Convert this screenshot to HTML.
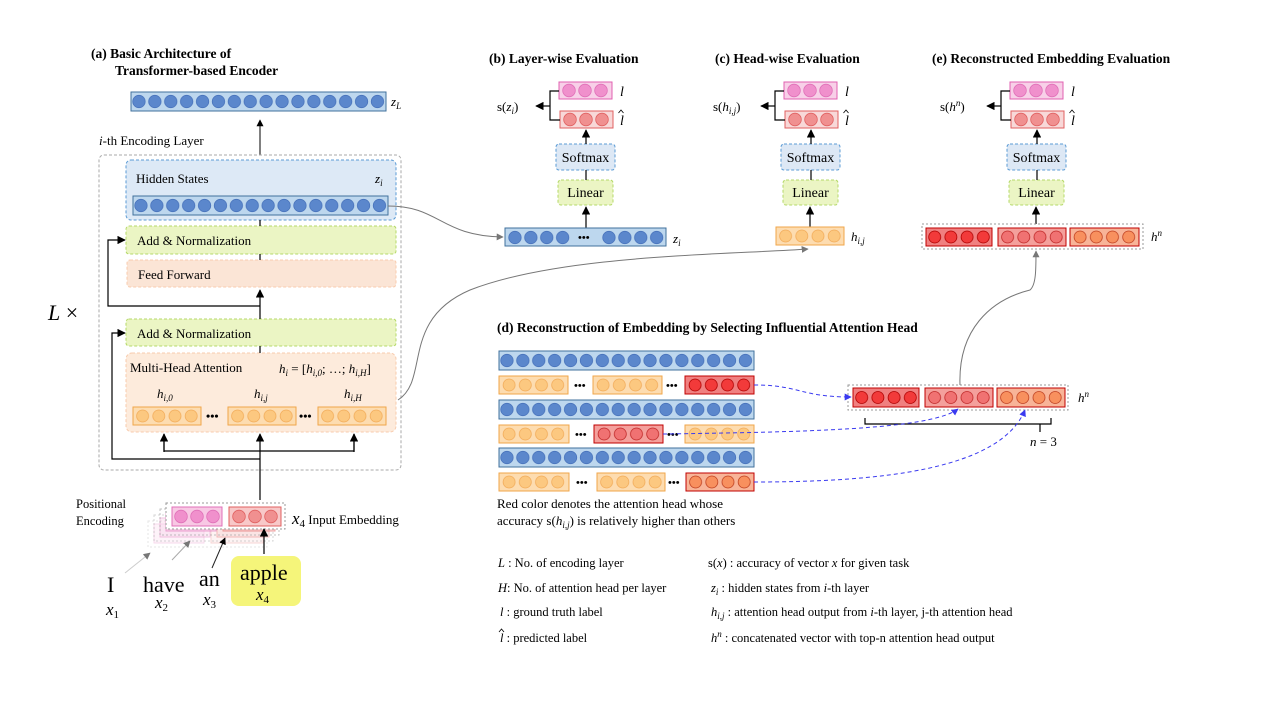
<!DOCTYPE html>
<html><head><meta charset="utf-8"><style>
html,body{margin:0;padding:0;background:#fff;}
svg{display:block;font-family:"Liberation Serif",serif;}
.m{font-style:italic;}
.t{font-weight:bold;font-size:13.5px;}
.lg{font-size:12.5px;}
</style></head><body>
<svg width="1280" height="720" viewBox="0 0 1280 720" xmlns="http://www.w3.org/2000/svg">
<defs>
<marker id="ar" viewBox="0 0 10 10" refX="9" refY="5" markerWidth="7" markerHeight="7" orient="auto"><path d="M0,0L10,5L0,10z" fill="#000"/></marker>
<marker id="ag" viewBox="0 0 10 10" refX="9" refY="5" markerWidth="7" markerHeight="7" orient="auto"><path d="M0,0L10,5L0,10z" fill="#777"/></marker>
<marker id="ab" viewBox="0 0 10 10" refX="9" refY="5" markerWidth="7" markerHeight="7" orient="auto"><path d="M0,0L10,5L0,10z" fill="#3a3af0"/></marker>
<pattern id="pB" patternUnits="userSpaceOnUse" width="15.9" height="19"><circle cx="7.95" cy="9.5" r="6.2" fill="#5b87cc" stroke="#4772bb" stroke-width="0.8"/></pattern>
<pattern id="pO" patternUnits="userSpaceOnUse" width="16.2" height="18"><circle cx="8.1" cy="9" r="6" fill="#fcc880" stroke="#f2ac5a" stroke-width="0.8"/></pattern>
<pattern id="pR1" patternUnits="userSpaceOnUse" width="16.2" height="18"><circle cx="8.1" cy="9" r="6" fill="#f23a3a" stroke="#b00000" stroke-width="0.8"/></pattern>
<pattern id="pR2" patternUnits="userSpaceOnUse" width="16.2" height="18"><circle cx="8.1" cy="9" r="6" fill="#f07272" stroke="#c02828" stroke-width="0.8"/></pattern>
<pattern id="pR3" patternUnits="userSpaceOnUse" width="16.2" height="18"><circle cx="8.1" cy="9" r="6" fill="#f8905e" stroke="#c04020" stroke-width="0.8"/></pattern>
<pattern id="pP" patternUnits="userSpaceOnUse" width="16" height="17"><circle cx="8" cy="8.5" r="6.3" fill="#f090cc" stroke="#e070b8" stroke-width="0.8"/></pattern>
<pattern id="pL" patternUnits="userSpaceOnUse" width="16" height="17"><circle cx="8" cy="8.5" r="6.3" fill="#f09090" stroke="#e06060" stroke-width="0.8"/></pattern>
</defs>

<!-- (a) title -->
<text class="t" x="91" y="58">(a)  Basic Architecture of</text>
<text class="t" x="115" y="75">Transformer-based Encoder</text>

<g transform="translate(131,92)"><rect width="255" height="19" fill="#bdd7ee" stroke="#41719c"/><rect width="254.4" height="19" fill="url(#pB)"/></g>
<text x="391" y="106" class="m" font-size="13">z<tspan font-size="9" dy="3">L</tspan></text>
<line x1="260" y1="155" x2="260" y2="120" stroke="#000" marker-end="url(#ar)"/>
<text x="99" y="145" font-size="13"><tspan class="m">i</tspan>-th Encoding Layer</text>

<rect x="99" y="155" width="302" height="315" rx="5" fill="none" stroke="#aaa" stroke-dasharray="3,2"/>
<text x="48" y="320" font-size="22"><tspan class="m">L</tspan> ×</text>

<rect x="126" y="160" width="270" height="60" rx="5" fill="#dde9f6" stroke="#5b9bd5" stroke-dasharray="3,2"/>
<text x="136" y="183" font-size="13">Hidden  States</text>
<text x="375" y="183" class="m" font-size="13">z<tspan font-size="9" dy="3">i</tspan></text>
<g transform="translate(133,196)"><rect width="255" height="19" fill="#bdd7ee" stroke="#41719c"/><rect width="254.4" height="19" fill="url(#pB)"/></g>

<rect x="126" y="226" width="270" height="28" rx="3" fill="#ebf5c4" stroke="#b5d96a" stroke-dasharray="3,2"/>
<text x="137" y="245" font-size="13">Add &amp; Normalization</text>
<rect x="127" y="260" width="269" height="27" rx="3" fill="#fbe5d6" stroke="#f8cbad" stroke-dasharray="3,2"/>
<text x="138" y="279" font-size="13">Feed Forward</text>
<rect x="126" y="319" width="270" height="27" rx="3" fill="#ebf5c4" stroke="#b5d96a" stroke-dasharray="3,2"/>
<text x="137" y="338" font-size="13">Add &amp; Normalization</text>
<rect x="126" y="353" width="270" height="79" rx="6" fill="#fdebdc" stroke="#f8cbad" stroke-dasharray="3,2"/>
<text x="130" y="372" font-size="13">Multi-Head  Attention</text>
<text x="279" y="373" font-size="13"><tspan class="m">h<tspan font-size="9" dy="3">i</tspan></tspan><tspan dy="-3"> = [</tspan><tspan class="m">h<tspan font-size="9" dy="3">i,0</tspan></tspan><tspan dy="-3">; …; </tspan><tspan class="m">h<tspan font-size="9" dy="3">i,H</tspan></tspan><tspan dy="-3">]</tspan></text>
<text x="157" y="398" class="m" font-size="13">h<tspan font-size="9" dy="3">i,0</tspan></text>
<text x="254" y="398" class="m" font-size="13">h<tspan font-size="9" dy="3">i,j</tspan></text>
<text x="344" y="398" class="m" font-size="13">h<tspan font-size="9" dy="3">i,H</tspan></text>
<g transform="translate(133,407)"><rect width="68" height="18" fill="#fddcb0" stroke="#f0a64a"/><g transform="translate(1.5,0)"><rect width="64.8" height="18" fill="url(#pO)"/></g></g>
<g transform="translate(228,407)"><rect width="68" height="18" fill="#fddcb0" stroke="#f0a64a"/><g transform="translate(1.5,0)"><rect width="64.8" height="18" fill="url(#pO)"/></g></g>
<g transform="translate(318,407)"><rect width="68" height="18" fill="#fddcb0" stroke="#f0a64a"/><g transform="translate(1.5,0)"><rect width="64.8" height="18" fill="url(#pO)"/></g></g>
<text x="206" y="420" font-size="12" font-weight="bold">•••</text>
<text x="299" y="420" font-size="12" font-weight="bold">•••</text>

<g stroke="#000" fill="none" stroke-width="1.2">
<line x1="260" y1="220" x2="260" y2="226"/>
<line x1="260" y1="254" x2="260" y2="260"/>
<line x1="260" y1="346" x2="260" y2="353"/>
<line x1="260" y1="319" x2="260" y2="290" marker-end="url(#ar)"/>
<polyline points="260,306 108,306 108,240 125,240" marker-end="url(#ar)"/>
<line x1="260" y1="500" x2="260" y2="434" marker-end="url(#ar)"/>
<polyline points="164,434 164,451 354,451 354,434" />
<line x1="164" y1="452" x2="164" y2="434" marker-end="url(#ar)"/>
<line x1="354" y1="452" x2="354" y2="434" marker-end="url(#ar)"/>
<polyline points="260,459 112,459 112,333 125,333" marker-end="url(#ar)"/>
</g>

<!-- input embeddings -->
<g opacity="0.25"><rect x="148" y="521" width="119" height="26" fill="none" stroke="#999" stroke-dasharray="2,2"/><rect x="154" y="524" width="50" height="19" fill="#f8d0e8" stroke="#e070b8"/><rect x="211" y="524" width="52" height="19" fill="#f8d0d0" stroke="#e06060"/></g>
<g opacity="0.4"><rect x="154" y="515" width="119" height="26" fill="none" stroke="#999" stroke-dasharray="2,2"/><rect x="160" y="518" width="50" height="19" fill="#f8d0e8" stroke="#e070b8"/><rect x="217" y="518" width="52" height="19" fill="#f8d0d0" stroke="#e06060"/></g>
<g opacity="0.6"><rect x="160" y="509" width="119" height="26" fill="none" stroke="#999" stroke-dasharray="2,2"/><rect x="166" y="512" width="50" height="19" fill="#f8c0e0" stroke="#e070b8"/><rect x="223" y="512" width="52" height="19" fill="#f8c0c0" stroke="#e06060"/></g>
<rect x="166" y="503" width="119" height="26" fill="#fff" stroke="#999" stroke-dasharray="2,2"/>
<g transform="translate(172,507)"><rect width="50" height="19" fill="#f8c8e4" stroke="#e070b8"/><g transform="translate(1,1)"><rect width="48" height="17" fill="url(#pP)"/></g></g>
<g transform="translate(229,507)"><rect width="52" height="19" fill="#f8c8c8" stroke="#e06060"/><g transform="translate(2,1)"><rect width="48" height="17" fill="url(#pL)"/></g></g>
<text x="292" y="524" font-size="13"><tspan class="m" font-size="17">x</tspan><tspan font-size="11" dy="3">4</tspan><tspan dy="-3"> Input Embedding</tspan></text>
<text x="76" y="508" font-size="12.5">Positional</text>
<text x="76" y="525" font-size="12.5">Encoding</text>

<rect x="231" y="556" width="70" height="50" rx="8" fill="#f5f57a"/>
<text x="107" y="592" font-size="22">I</text>
<text x="143" y="592" font-size="22">have</text>
<text x="199" y="586" font-size="22">an</text>
<text x="240" y="580" font-size="22">apple</text>
<text x="106" y="615" class="m" font-size="17">x<tspan font-size="11" dy="3" font-style="normal">1</tspan></text>
<text x="155" y="608" class="m" font-size="17">x<tspan font-size="11" dy="3" font-style="normal">2</tspan></text>
<text x="203" y="605" class="m" font-size="17">x<tspan font-size="11" dy="3" font-style="normal">3</tspan></text>
<text x="256" y="600" class="m" font-size="17">x<tspan font-size="11" dy="3" font-style="normal">4</tspan></text>
<line x1="264" y1="554" x2="264" y2="529" stroke="#000" stroke-width="1.2" marker-end="url(#ar)"/>
<line x1="212" y1="568" x2="225" y2="538" stroke="#222" marker-end="url(#ar)"/>
<line x1="172" y1="560" x2="190" y2="541" stroke="#aaa" marker-end="url(#ag)"/>
<line x1="125" y1="573" x2="150" y2="553" stroke="#ccc" marker-end="url(#ag)"/>

<!-- (b) -->
<text class="t" x="489" y="63">(b) Layer-wise Evaluation</text>
<g id="evb">
<g transform="translate(559,82)"><rect width="53" height="17" fill="#f8d0e8" stroke="#e060b0"/><g transform="translate(2,0)"><rect width="48" height="17" fill="url(#pP)"/></g></g>
<g transform="translate(560,111)"><rect width="53" height="17" fill="#f8d8d8" stroke="#e06060"/><g transform="translate(2,0)"><rect width="48" height="17" fill="url(#pL)"/></g></g>
<rect x="556" y="144" width="59" height="26" rx="3" fill="#dde8f5" stroke="#5b9bd5" stroke-dasharray="3,2"/>
<text x="585.5" y="162" font-size="14" text-anchor="middle">Softmax</text>
<rect x="558" y="180" width="55" height="25" rx="3" fill="#ebf5c4" stroke="#b5d96a" stroke-dasharray="3,2"/>
<text x="585.5" y="197" font-size="14" text-anchor="middle">Linear</text>
<g stroke="#000" fill="none" stroke-width="1.2">
<polyline points="559,91 550,91 550,120 560,120"/>
<line x1="550" y1="106" x2="536" y2="106" marker-end="url(#ar)"/>
<line x1="586" y1="144" x2="586" y2="130" marker-end="url(#ar)"/>
<line x1="586" y1="180" x2="586" y2="170"/>
</g>
<text x="620" y="96" class="m" font-size="14">l</text>
<text x="620" y="125" class="m" font-size="14">l</text>
<path d="M618.5,113 L621,110 L623.5,113" fill="none" stroke="#000" stroke-width="0.8"/>
</g>
<text x="497" y="111" font-size="13">s(<tspan class="m">z<tspan font-size="9" dy="3">i</tspan></tspan><tspan dy="-3">)</tspan></text>
<line x1="586" y1="228" x2="586" y2="207" stroke="#000" stroke-width="1.2" marker-end="url(#ar)"/>
<g transform="translate(505,228)"><rect width="161" height="18" fill="#bdd7ee" stroke="#41719c"/><g transform="translate(2,0)"><rect width="63.6" height="18" fill="url(#pB)"/></g><g transform="translate(96,0)"><rect width="63.6" height="18" fill="url(#pB)"/></g></g>
<text x="578" y="241" font-size="11" font-weight="bold">•••</text>
<text x="673" y="243" class="m" font-size="13">z<tspan font-size="9" dy="3">i</tspan></text>

<!-- (c) -->
<text class="t" x="715" y="63">(c) Head-wise Evaluation</text>
<use href="#evb" transform="translate(225,0)"/>
<text x="713" y="111" font-size="13">s(<tspan class="m">h<tspan font-size="9" dy="3">i,j</tspan></tspan><tspan dy="-3">)</tspan></text>
<line x1="810" y1="227" x2="810" y2="207" stroke="#000" stroke-width="1.2" marker-end="url(#ar)"/>
<g transform="translate(776,227)"><rect width="68" height="18" fill="#fddcb0" stroke="#f0a64a"/><g transform="translate(1.5,0)"><rect width="64.8" height="18" fill="url(#pO)"/></g></g>
<text x="851" y="241" class="m" font-size="13">h<tspan font-size="9" dy="3">i,j</tspan></text>

<!-- (e) -->
<text class="t" x="932" y="63">(e) Reconstructed Embedding Evaluation</text>
<use href="#evb" transform="translate(451,0)"/>
<text x="940" y="111" font-size="13">s(<tspan class="m">h<tspan font-size="9" dy="-5">n</tspan></tspan><tspan dy="5">)</tspan></text>
<line x1="1036" y1="224" x2="1036" y2="207" stroke="#000" stroke-width="1.2" marker-end="url(#ar)"/>
<rect x="922" y="224" width="221" height="25" fill="#fff" stroke="#999" stroke-dasharray="2,2"/>
<g transform="translate(926,228)"><rect width="66" height="18" fill="#f08080" stroke="#c00000"/><g transform="translate(0.6,0)"><rect width="64.8" height="18" fill="url(#pR1)"/></g></g>
<g transform="translate(998,228)"><rect width="68" height="18" fill="#f4a09c" stroke="#c00000"/><g transform="translate(1.5,0)"><rect width="64.8" height="18" fill="url(#pR2)"/></g></g>
<g transform="translate(1070,228)"><rect width="69" height="18" fill="#f8b498" stroke="#c00000"/><g transform="translate(2,0)"><rect width="64.8" height="18" fill="url(#pR3)"/></g></g>
<text x="1151" y="241" class="m" font-size="13">h<tspan font-size="9" dy="-5">n</tspan></text>

<!-- (d) -->
<text class="t" x="497" y="332">(d) Reconstruction of Embedding by Selecting Influential Attention Head</text>
<g transform="translate(499,351)"><rect width="255" height="19" fill="#bdd7ee" stroke="#41719c"/><rect width="254.4" height="19" fill="url(#pB)"/></g>
<g transform="translate(499,400)"><rect width="255" height="19" fill="#bdd7ee" stroke="#41719c"/><rect width="254.4" height="19" fill="url(#pB)"/></g>
<g transform="translate(499,448)"><rect width="255" height="19" fill="#bdd7ee" stroke="#41719c"/><rect width="254.4" height="19" fill="url(#pB)"/></g>
<g transform="translate(499,376)"><rect width="69" height="18" fill="#fddcb0" stroke="#f0a64a"/><g transform="translate(2,0)"><rect width="64.8" height="18" fill="url(#pO)"/></g></g>
<g transform="translate(593,376)"><rect width="69" height="18" fill="#fddcb0" stroke="#f0a64a"/><g transform="translate(2,0)"><rect width="64.8" height="18" fill="url(#pO)"/></g></g>
<g transform="translate(685,376)"><rect width="69" height="18" fill="#f08080" stroke="#c00000"/><g transform="translate(2,0)"><rect width="64.8" height="18" fill="url(#pR1)"/></g></g>
<text x="574" y="389" font-size="11" font-weight="bold">•••</text>
<text x="666" y="389" font-size="11" font-weight="bold">•••</text>
<g transform="translate(499,425)"><rect width="70" height="18" fill="#fddcb0" stroke="#f0a64a"/><g transform="translate(2,0)"><rect width="64.8" height="18" fill="url(#pO)"/></g></g>
<g transform="translate(685,425)"><rect width="69" height="18" fill="#fddcb0" stroke="#f0a64a"/><g transform="translate(2,0)"><rect width="64.8" height="18" fill="url(#pO)"/></g></g>
<g transform="translate(594,425)"><rect width="69" height="18" fill="#f4a09c" stroke="#c00000"/><g transform="translate(2,0)"><rect width="64.8" height="18" fill="url(#pR2)"/></g></g>
<text x="575" y="438" font-size="11" font-weight="bold">•••</text>
<text x="667" y="438" font-size="11" font-weight="bold">•••</text>
<g transform="translate(499,473)"><rect width="70" height="18" fill="#fddcb0" stroke="#f0a64a"/><g transform="translate(2,0)"><rect width="64.8" height="18" fill="url(#pO)"/></g></g>
<g transform="translate(597,473)"><rect width="68" height="18" fill="#fddcb0" stroke="#f0a64a"/><g transform="translate(1.5,0)"><rect width="64.8" height="18" fill="url(#pO)"/></g></g>
<g transform="translate(686,473)"><rect width="68" height="18" fill="#f8b498" stroke="#c00000"/><g transform="translate(1.5,0)"><rect width="64.8" height="18" fill="url(#pR3)"/></g></g>
<text x="576" y="486" font-size="11" font-weight="bold">•••</text>
<text x="668" y="486" font-size="11" font-weight="bold">•••</text>

<text x="497" y="508" font-size="13">Red color denotes the attention head whose</text>
<text x="497" y="525" font-size="13">accuracy s(<tspan class="m">h<tspan font-size="9" dy="3">i,j</tspan></tspan><tspan dy="-3">) is relatively higher than others</tspan></text>

<rect x="848" y="385" width="220" height="25" fill="#fff" stroke="#999" stroke-dasharray="2,2"/>
<g transform="translate(853,388)"><rect width="66" height="19" fill="#f08080" stroke="#c00000"/><g transform="translate(0.6,0.5)"><rect width="64.8" height="18" fill="url(#pR1)"/></g></g>
<g transform="translate(925,388)"><rect width="68" height="19" fill="#f4a09c" stroke="#c00000"/><g transform="translate(1.5,0.5)"><rect width="64.8" height="18" fill="url(#pR2)"/></g></g>
<g transform="translate(997,388)"><rect width="68" height="19" fill="#f8b498" stroke="#c00000"/><g transform="translate(1.5,0.5)"><rect width="64.8" height="18" fill="url(#pR3)"/></g></g>
<text x="1078" y="402" class="m" font-size="13">h<tspan font-size="9" dy="-5">n</tspan></text>
<polyline points="865,418 865,424 1051,424 1051,418" fill="none" stroke="#000" stroke-width="1.2"/>
<line x1="1040" y1="424" x2="1040" y2="432" stroke="#000" stroke-width="1.2"/>
<text x="1030" y="446" font-size="13"><tspan class="m">n</tspan> = 3</text>

<g fill="none">
<path d="M388,206 C440,206 440,236 503,237" stroke="#777" marker-end="url(#ag)"/>
<path d="M398,400 C430,380 400,320 470,290 C560,255 720,255 808,249" stroke="#777" marker-end="url(#ag)"/>
<path d="M960,385 C958,330 990,300 1030,290 C1036,285 1036,270 1036,251" stroke="#777" marker-end="url(#ag)"/>
<path d="M754,385 C800,385 800,397 851,397" stroke="#3a3af0" stroke-dasharray="4,3" marker-end="url(#ab)"/>
<path d="M663,434 C800,432 930,430 958,409" stroke="#3a3af0" stroke-dasharray="4,3" marker-end="url(#ab)"/>
<path d="M754,482 C880,482 1000,470 1025,410" stroke="#3a3af0" stroke-dasharray="4,3" marker-end="url(#ab)"/>
</g>

<g class="lg">
<text x="498" y="567"><tspan class="m">L</tspan> : No. of encoding layer</text>
<text x="498" y="592"><tspan class="m">H</tspan>: No. of attention head per layer</text>
<text x="500" y="616"><tspan class="m">l</tspan>  : ground truth label</text>
<text x="500" y="642"><tspan class="m">l</tspan> : predicted label</text>
<path d="M499,632 L501.5,629 L504,632" fill="none" stroke="#000" stroke-width="0.8"/>
<text x="708" y="567">s(<tspan class="m">x</tspan>)  : accuracy of vector <tspan class="m">x</tspan> for given task</text>
<text x="711" y="592"><tspan class="m">z<tspan font-size="9" dy="3">i</tspan></tspan><tspan dy="-3">  : hidden  states from </tspan><tspan class="m">i</tspan>-th layer</text>
<text x="711" y="616"><tspan class="m">h<tspan font-size="9" dy="3">i,j</tspan></tspan><tspan dy="-3"> : attention head output from </tspan><tspan class="m">i</tspan>-th layer, j-th attention head</text>
<text x="711" y="642"><tspan class="m">h<tspan font-size="9" dy="-5">n</tspan></tspan><tspan dy="5">  : concatenated vector with top-n attention head output</tspan></text>
</g>
</svg>
</body></html>
